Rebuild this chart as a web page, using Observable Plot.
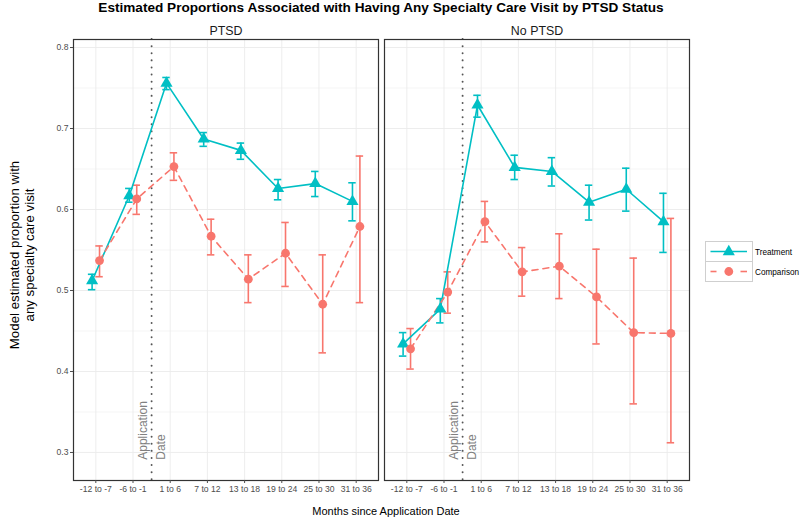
<!DOCTYPE html>
<html><head><meta charset="utf-8">
<script src="https://cdn.jsdelivr.net/npm/d3@7"></script>
<script src="https://cdn.jsdelivr.net/npm/@observablehq/plot@0.6"></script>
<style>
body{margin:0;background:#fff;font-family:"Liberation Sans",Arial,sans-serif;}
#wrap{position:relative;width:800px;height:519px;overflow:hidden;background:#fff}
#title{height:18px;line-height:16px;width:762px;text-align:center;font-weight:bold;font-size:13.6px;color:#000;white-space:nowrap}
#chart{height:487px}
#xtitle{height:14px;line-height:13px;width:772px;text-align:center;font-size:11px;color:#000;white-space:nowrap}
#ytitle{position:absolute;left:-108px;top:241px;width:260px;height:28px;line-height:14.5px;font-size:13.3px;text-align:center;transform:rotate(-90deg);transform-origin:50% 50%;color:#000;white-space:nowrap}
#legend{position:absolute;left:705px;top:241px}
</style></head><body>
<div id="wrap">
 <div id="title">Estimated Proportions Associated with Having Any Specialty Care Visit by PTSD Status</div>
 <div id="chart"></div>
 <div id="xtitle">Months since Application Date</div>
 <div id="ytitle">Model estimated proportion with<br>any specialty care visit</div>
 <div id="legend"></div>
</div>
<script>
// ---- data ----
const periods = ["-12 to -7","-6 to -1","1 to 6","7 to 12","13 to 18","19 to 24","25 to 30","31 to 36"];
const panels = ["PTSD","No PTSD"];
const seriesNames = ["Treatment","Comparison"];
const seriesColors = ["#00BFC4","#F8766D"];

const ptsdTreatment     = [0.512,0.617,0.756,0.687,0.673,0.626,0.632,0.610];
const ptsdTreatmentLow  = [0.501,0.609,0.748,0.678,0.662,0.612,0.616,0.586];
const ptsdTreatmentHigh = [0.520,0.626,0.763,0.695,0.682,0.637,0.647,0.633];

const ptsdComparison     = [0.537,0.613,0.653,0.567,0.514,0.546,0.483,0.579];
const ptsdComparisonLow  = [0.517,0.594,0.636,0.544,0.485,0.505,0.423,0.485];
const ptsdComparisonHigh = [0.555,0.630,0.670,0.588,0.544,0.584,0.544,0.666];

const noPtsdTreatment     = [0.434,0.477,0.729,0.652,0.647,0.609,0.625,0.585];
const noPtsdTreatmentLow  = [0.419,0.460,0.714,0.637,0.629,0.587,0.598,0.547];
const noPtsdTreatmentHigh = [0.448,0.490,0.741,0.667,0.664,0.630,0.651,0.620];

const noPtsdComparison     = [0.428,0.498,0.585,0.523,0.530,0.492,0.448,0.447];
const noPtsdComparisonLow  = [0.403,0.472,0.560,0.493,0.490,0.434,0.360,0.312];
const noPtsdComparisonHigh = [0.453,0.523,0.610,0.553,0.570,0.551,0.540,0.589];

const yMajorTicks = [0.3,0.4,0.5,0.6,0.7,0.8];
const yMinorTicks = [0.35,0.45,0.55,0.65,0.75];
const applicationIndex = 2.5;     // between "-6 to -1" and "1 to 6"
const applicationLabelY = 0.291;  // start of rotated annotation
const dodge = {Treatment: -0.1, Comparison: 0.1};

// ---- build table ----
function addSeries(rows, panel, series, est, lo, hi) {
  est.forEach((v, k) => rows.push({panel, series, period: periods[k], i: k + 1,
    xi: k + 1 + dodge[series], est: v, lo: lo[k], hi: hi[k]}));
}
const rows = [];
addSeries(rows, "PTSD", "Treatment", ptsdTreatment, ptsdTreatmentLow, ptsdTreatmentHigh);
addSeries(rows, "PTSD", "Comparison", ptsdComparison, ptsdComparisonLow, ptsdComparisonHigh);
addSeries(rows, "No PTSD", "Treatment", noPtsdTreatment, noPtsdTreatmentLow, noPtsdTreatmentHigh);
addSeries(rows, "No PTSD", "Comparison", noPtsdComparison, noPtsdComparisonLow, noPtsdComparisonHigh);
const treat = rows.filter(d => d.series === "Treatment");
const comp = rows.filter(d => d.series === "Comparison");
const idx = periods.map((p, k) => k + 1);
const capHalf = 0.1;

const chart = Plot.plot({
  width: 800, height: 487,
  marginLeft: 73, marginRight: 110, marginTop: 21, marginBottom: 25,
  style: {fontFamily: "Liberation Sans, Arial, sans-serif", background: "#fff"},
  fx: {domain: panels, paddingInner: 0.01926, paddingOuter: 0, label: null},
  x: {domain: [0.4, 8.6]},
  y: {domain: [0.2654, 0.8099]},
  color: {domain: seriesNames, range: seriesColors},
  marks: [
    Plot.gridY({ticks: yMinorTicks, stroke: "#ebebeb", strokeOpacity: 1, strokeWidth: 0.5}),
    Plot.gridY({ticks: yMajorTicks, stroke: "#ebebeb", strokeOpacity: 1, strokeWidth: 0.9}),
    Plot.gridX({ticks: idx, stroke: "#ebebeb", strokeOpacity: 1, strokeWidth: 0.9}),
    Plot.ruleX([applicationIndex], {x: d => d, stroke: "#555", strokeWidth: 1.9, strokeDasharray: "0.1,7", strokeLinecap: "round"}),
    Plot.text(["Application"], {x: () => applicationIndex, y: () => applicationLabelY, text: d => d, rotate: -90, textAnchor: "start", lineAnchor: "bottom", dx: -4.5, fill: "#808080", fontSize: 12}),
    Plot.text(["Date"], {x: () => applicationIndex, y: () => applicationLabelY, text: d => d, rotate: -90, textAnchor: "start", lineAnchor: "top", dx: 4.5, fill: "#808080", fontSize: 12}),
    Plot.ruleX(rows, {x: "xi", y1: "lo", y2: "hi", fx: "panel", stroke: "series", strokeWidth: 1.6}),
    Plot.ruleY(rows, {x1: d => d.xi - capHalf, x2: d => d.xi + capHalf, y: "lo", fx: "panel", stroke: "series", strokeWidth: 1.6}),
    Plot.ruleY(rows, {x1: d => d.xi - capHalf, x2: d => d.xi + capHalf, y: "hi", fx: "panel", stroke: "series", strokeWidth: 1.6}),
    Plot.line(treat, {x: "xi", y: "est", fx: "panel", stroke: "series", strokeWidth: 1.6}),
    Plot.line(comp, {x: "xi", y: "est", fx: "panel", stroke: "series", strokeWidth: 1.6, strokeDasharray: "6,5"}),
    Plot.dot(treat, {x: "xi", y: "est", fx: "panel", fill: "series", symbol: "triangle", r: 4.5}),
    Plot.dot(comp, {x: "xi", y: "est", fx: "panel", fill: "series", symbol: "circle", r: 4.4}),
    Plot.frame({stroke: "#333", strokeWidth: 1.2}),
    Plot.axisY({ticks: yMajorTicks, tickFormat: d3.format(".1f"), tickSize: 3, tickPadding: 2, fontSize: 8.6, color: "#4d4d4d", label: null}),
    Plot.axisX({ticks: idx, tickFormat: i => periods[i - 1], tickSize: 3, tickPadding: 2, fontSize: 8.6, color: "#4d4d4d", label: null}),
    Plot.axisFx({anchor: "top", tickSize: 0, tickPadding: 5, fontSize: 12.4, label: null, color: "#1a1a1a"})
  ]
});
document.getElementById("chart").appendChild(chart);

// ---- legend ----
const tri = d3.symbol(d3.symbolTriangle, Math.PI * 4.5 * 4.5)();
document.getElementById("legend").innerHTML = `
<svg width="95" height="42" style="font-family:'Liberation Sans',Arial,sans-serif;overflow:visible">
 <rect x="0.5" y="0.5" width="47" height="20" fill="#fff" stroke="#cfcfcf"/>
 <rect x="0.5" y="20.5" width="47" height="20" fill="#fff" stroke="#cfcfcf"/>
 <line x1="5.5" x2="42" y1="10.5" y2="10.5" stroke="${seriesColors[0]}" stroke-width="1.6"/>
 <path d="${tri}" transform="translate(23.8,10.8)" fill="${seriesColors[0]}"/>
 <line x1="5.5" x2="11.5" y1="30.5" y2="30.5" stroke="${seriesColors[1]}" stroke-width="1.6"/>
 <line x1="35.5" x2="42" y1="30.5" y2="30.5" stroke="${seriesColors[1]}" stroke-width="1.6"/>
 <circle cx="23.8" cy="30.5" r="4.4" fill="${seriesColors[1]}"/>
 <text x="50" y="13.5" font-size="8.2" fill="#000">${seriesNames[0]}</text>
 <text x="50" y="33.8" font-size="8.2" fill="#000">${seriesNames[1]}</text>
</svg>`;
</script>
</body></html>
